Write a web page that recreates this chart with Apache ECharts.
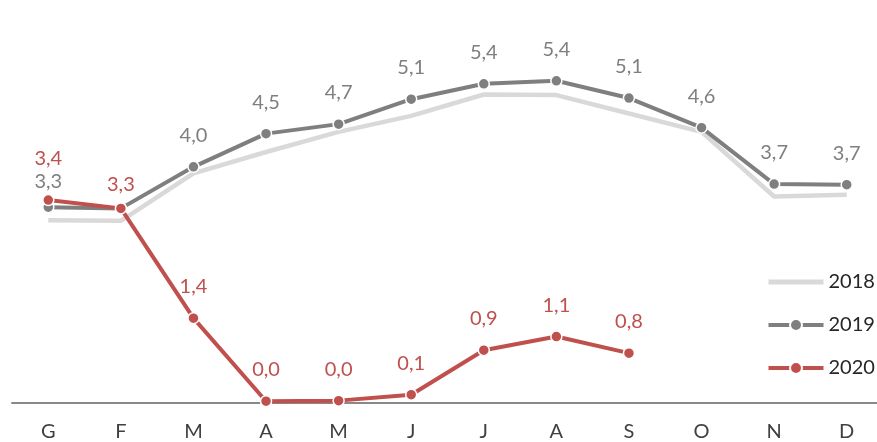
<!DOCTYPE html>
<html>
<head>
<meta charset="utf-8">
<script src="https://cdn.jsdelivr.net/npm/echarts@6/dist/echarts.min.js"></script>
<style>
html,body{margin:0;padding:0;background:#fff;overflow:hidden;}
#wrap{width:877px;height:442px;overflow:hidden;}
#c{width:884px;height:442px;}
</style>
</head>
<body>
<div id="wrap"><div id="c"></div></div>
<script>
var months = ['G','F','M','A','M','J','J','A','S','O','N','D'];
var seriesNames = ['2018','2019','2020'];
var v2018 = [3.08, 3.07, 3.87, 4.23, 4.57, 4.84, 5.20, 5.19, 4.88, 4.57, 3.48, 3.51];
var v2019 = [3.30, 3.28, 3.98, 4.54, 4.70, 5.12, 5.38, 5.43, 5.14, 4.64, 3.69, 3.68];
var v2020 = [3.42, 3.28, 1.43, 0.03, 0.04, 0.14, 0.89, 1.12, 0.84, null, null, null];

var FONT = 'Lato';
function fmt(p){ return p.value == null ? '' : Number(p.value).toFixed(1).replace('.', ','); }

var d2019 = v2019.map(function(v,i){
  var o = {value:v};
  if (i === 0) o.label = {offset:[0,6]};
  if (i === 1) o.label = {show:false};
  return o;
});
var d2020 = v2020.map(function(v,i){
  var o = {value:v};
  if (i === 0) o.label = {offset:[0,-10]};
  if (i === 1) o.label = {offset:[0,7]};
  return o;
});

var chart = echarts.init(document.getElementById('c'), null, {renderer:'canvas'});
chart.setOption({
  animation:false,
  textStyle:{fontFamily:FONT},
  grid:{left:12, width:871, top:47, bottom:39, containLabel:false},
  legend:{
    orient:'vertical', left:766, top:272, itemGap:23, padding:0,
    itemWidth:55, itemHeight:15,
    textStyle:{fontFamily:FONT, fontSize:20, color:'#262626', padding:[0,0,0,0]},
    data:[
      {name:seriesNames[0], itemStyle:{opacity:0}, lineStyle:{width:5, color:'#d9d9d9'}},
      {name:seriesNames[1], lineStyle:{width:4, color:'#7f7f7f'}},
      {name:seriesNames[2], lineStyle:{width:4, color:'#c0504d'}}
    ]
  },
  xAxis:{
    type:'category', data:months, boundaryGap:true,
    axisLine:{lineStyle:{color:'#898989', width:2}},
    axisTick:{show:false},
    axisLabel:{fontFamily:FONT, fontSize:20, color:'#404040', margin:19}
  },
  yAxis:{
    type:'value', min:0, max:6, show:false,
    splitLine:{show:false}
  },
  series:[
    {
      name:seriesNames[0], type:'line', data:v2018, symbol:'none',
      lineStyle:{color:'#d9d9d9', width:4.5}, itemStyle:{color:'#d9d9d9'}, z:1
    },
    {
      name:seriesNames[1], type:'line', data:d2019, symbol:'circle', symbolSize:11,
      lineStyle:{color:'#7f7f7f', width:4},
      itemStyle:{color:'#7f7f7f', borderColor:'#fff', borderWidth:1.5},
      label:{show:true, position:'top', distance:15, formatter:fmt,
        fontFamily:FONT, fontSize:20, color:'#7f7f7f'},
      z:2
    },
    {
      name:seriesNames[2], type:'line', data:d2020, symbol:'circle', symbolSize:11,
      lineStyle:{color:'#c0504d', width:4},
      itemStyle:{color:'#c0504d', borderColor:'#fff', borderWidth:1.5},
      label:{show:true, position:'top', distance:15, formatter:fmt,
        fontFamily:FONT, fontSize:20, color:'#c0504d'},
      z:3
    }
  ]
});
</script>
</body>
</html>
